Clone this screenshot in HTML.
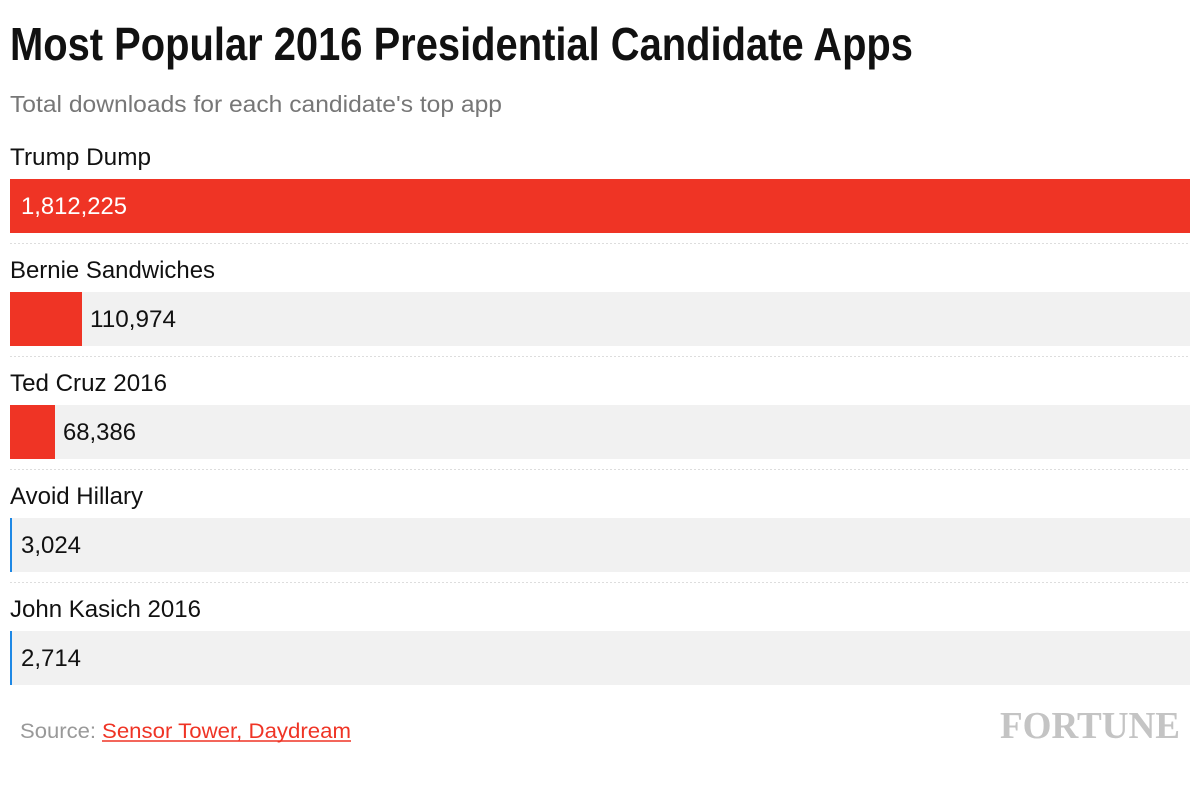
<!DOCTYPE html>
<html><head><meta charset="utf-8"><style>
body{margin:0;background:#fff;}
svg{display:block;font-family:"Liberation Sans",Arial,sans-serif;}
</style></head><body>
<svg width="1200" height="804" viewBox="0 0 1200 804" xmlns="http://www.w3.org/2000/svg">
<text x="10" y="60" font-size="46" font-weight="bold" fill="#111" textLength="903" lengthAdjust="spacingAndGlyphs">Most Popular 2016 Presidential Candidate Apps</text>
<text x="10" y="112" font-size="23" fill="#777" textLength="492" lengthAdjust="spacingAndGlyphs">Total downloads for each candidate's top app</text>
<g font-size="24" fill="#111">
<text x="10" y="165" textLength="141" lengthAdjust="spacingAndGlyphs">Trump Dump</text>
<rect x="10" y="179" width="1180" height="54" fill="#ef3425"/>
<text x="21" y="214" fill="#fff" textLength="106" lengthAdjust="spacingAndGlyphs">1,812,225</text>
<line x1="10" y1="243.5" x2="1190" y2="243.5" stroke="#ddd" stroke-dasharray="2,2"/>
<text x="10" y="278" textLength="205" lengthAdjust="spacingAndGlyphs">Bernie Sandwiches</text>
<rect x="10" y="292" width="1180" height="54" fill="#f1f1f1"/>
<rect x="10" y="292" width="72" height="54" fill="#ef3425"/>
<text x="90" y="327" textLength="86" lengthAdjust="spacingAndGlyphs">110,974</text>
<line x1="10" y1="356.5" x2="1190" y2="356.5" stroke="#ddd" stroke-dasharray="2,2"/>
<text x="10" y="391" textLength="157" lengthAdjust="spacingAndGlyphs">Ted Cruz 2016</text>
<rect x="10" y="405" width="1180" height="54" fill="#f1f1f1"/>
<rect x="10" y="405" width="45" height="54" fill="#ef3425"/>
<text x="63" y="440" textLength="73" lengthAdjust="spacingAndGlyphs">68,386</text>
<line x1="10" y1="469.5" x2="1190" y2="469.5" stroke="#ddd" stroke-dasharray="2,2"/>
<text x="10" y="504" textLength="133" lengthAdjust="spacingAndGlyphs">Avoid Hillary</text>
<rect x="10" y="518" width="1180" height="54" fill="#f1f1f1"/>
<rect x="10" y="518" width="2" height="54" fill="#1e88e5"/>
<text x="21" y="553" textLength="60" lengthAdjust="spacingAndGlyphs">3,024</text>
<line x1="10" y1="582.5" x2="1190" y2="582.5" stroke="#ddd" stroke-dasharray="2,2"/>
<text x="10" y="617" textLength="191" lengthAdjust="spacingAndGlyphs">John Kasich 2016</text>
<rect x="10" y="631" width="1180" height="54" fill="#f1f1f1"/>
<rect x="10" y="631" width="2" height="54" fill="#1e88e5"/>
<text x="21" y="666" textLength="60" lengthAdjust="spacingAndGlyphs">2,714</text>
</g>
<text x="20" y="738" font-size="21" fill="#999" textLength="76" lengthAdjust="spacingAndGlyphs">Source:</text>
<text x="102" y="738" font-size="21" fill="#ef3425" textLength="249" lengthAdjust="spacingAndGlyphs">Sensor Tower, Daydream</text>
<line x1="102" y1="741" x2="351" y2="741" stroke="#ef3425" stroke-width="1.5"/>
<text x="1000" y="738" font-family="Liberation Serif,serif" font-size="38" font-weight="bold" fill="#c4c4c4" textLength="180" lengthAdjust="spacingAndGlyphs">FORTUNE</text>
</svg>
</body></html>
